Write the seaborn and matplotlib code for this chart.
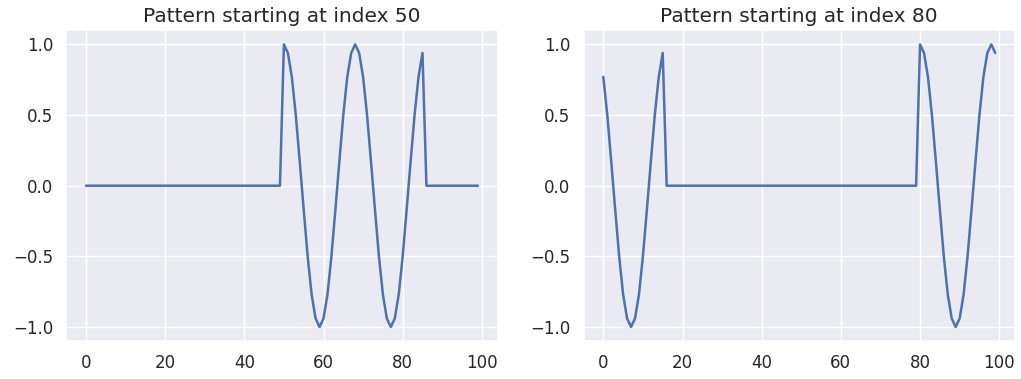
import numpy as np
import matplotlib
matplotlib.use('agg')
import matplotlib.pyplot as plt
import seaborn as sns

N = 100
STARTS = [50, 80]

# one pattern (two full oscillations, 36 samples)
PATTERN = [1.00, 0.94, 0.77, 0.50, 0.17, -0.17, -0.50, -0.77, -0.94,
           -1.00, -0.94, -0.77, -0.50, -0.17, 0.17, 0.50, 0.77, 0.94,
           1.00, 0.94, 0.77, 0.50, 0.17, -0.17, -0.50, -0.77, -0.94,
           -1.00, -0.94, -0.77, -0.50, -0.17, 0.17, 0.50, 0.77, 0.94]

XTICKS = [0, 20, 40, 60, 80, 100]
YTICKS = [-1.0, -0.5, 0.0, 0.5, 1.0]


def make_signal(start):
    sig = np.zeros(N)
    sig[:len(PATTERN)] = PATTERN
    return np.roll(sig, start)


sns.set_theme(style='darkgrid')

fig, axes = plt.subplots(1, 2, figsize=(10.21, 3.79), dpi=100)

for ax, start in zip(axes, STARTS):
    sns.lineplot(x=np.arange(N), y=make_signal(start), ax=ax, linewidth=1.8)
    ax.set_title('Pattern starting at index %d' % start, fontsize=14.5)
    ax.set_xticks(XTICKS)
    ax.set_yticks(YTICKS)
    ax.tick_params(labelsize=12)

fig.subplots_adjust(left=0.065, right=0.994, bottom=0.1, top=0.92, wspace=0.2)
fig.savefig('out.png', dpi=100)
